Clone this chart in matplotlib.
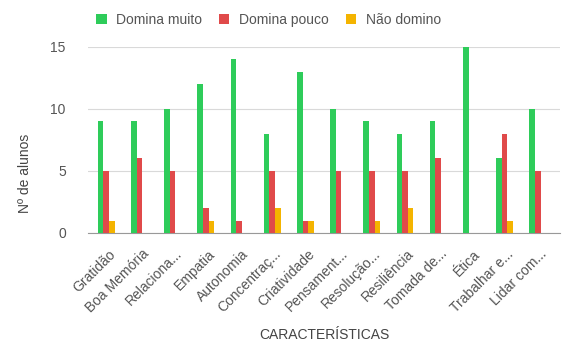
import matplotlib
matplotlib.use("Agg")
import matplotlib.pyplot as plt
import matplotlib.transforms as mtransforms
import numpy as np

plt.rcParams['font.family'] = ['Liberation Sans', 'DejaVu Sans']

categories = ["Gratidão", "Boa Memória", "Relaciona...", "Empatia", "Autonomia",
              "Concentraç...", "Criatividade", "Pensament...", "Resolução...",
              "Resiliência", "Tomada de...", "Ética", "Trabalhar e...", "Lidar com..."]
domina_muito = [9, 9, 10, 12, 14, 8, 13, 10, 9, 8, 9, 15, 6, 10]
domina_pouco = [5, 6, 5, 2, 1, 5, 1, 5, 5, 5, 6, 0, 8, 5]
nao_domino = [1, 0, 0, 1, 0, 2, 1, 0, 1, 2, 0, 0, 1, 0]

series = [("Domina muito", domina_muito, "#2ecc5a"),
          ("Domina pouco", domina_pouco, "#e04a4a"),
          ("Não domino", nao_domino, "#f4b400")]

W, H = 563, 342
fig = plt.figure(figsize=(W / 100, H / 100), dpi=100)
ax = fig.add_axes([88 / W, 1 - 233 / H, (560 - 88) / W, (233 - 46.7) / H])

x = np.arange(len(categories))
w = 0.17
for i, (name, vals, col) in enumerate(series):
    ax.bar(x + (i - 1) * w, vals, width=w, color=col, label=name, zorder=3)

ax.set_xlim(-0.55, 13.67)
ax.set_ylim(0, 15)
ax.set_yticks([0, 5, 10, 15])
ax.yaxis.grid(True, color="#d9d9d9", linewidth=0.8, zorder=0)
for s in ["top", "right", "left"]:
    ax.spines[s].set_visible(False)
ax.spines["bottom"].set_color("#999999")
ax.tick_params(axis="both", length=0, labelsize=10, colors="#555555")
ax.set_xticks(x)
ax.set_xticklabels(categories, rotation=45, ha="right", va="top", rotation_mode="anchor")
ax.tick_params(axis="x", pad=10)
ax.tick_params(axis="y", pad=16)
offset = mtransforms.ScaledTranslation(2 / 100, 0, fig.dpi_scale_trans)
for lbl in ax.get_xticklabels():
    lbl.set_transform(lbl.get_transform() + offset)

ax.set_xlabel("CARACTERÍSTICAS", fontsize=10, color="#444444")
ax.xaxis.set_label_coords(0.5, (233 - 335) / (233 - 46.7))
ax.xaxis.label.set_va("center")
ax.set_ylabel("Nº de alunos", fontsize=10, color="#444444")
ax.yaxis.set_label_coords((25 - 88) / (560 - 88), (233 - 173) / (233 - 46.7))
ax.yaxis.label.set_va("center")

fig.legend(loc="center", bbox_to_anchor=(0.477, 1 - 20 / H), ncol=3, frameon=False,
           fontsize=10, handlelength=0.75, handleheight=0.75, columnspacing=1.2,
           handletextpad=0.7, labelcolor="#555555")

fig.savefig("out.png", dpi=100)
